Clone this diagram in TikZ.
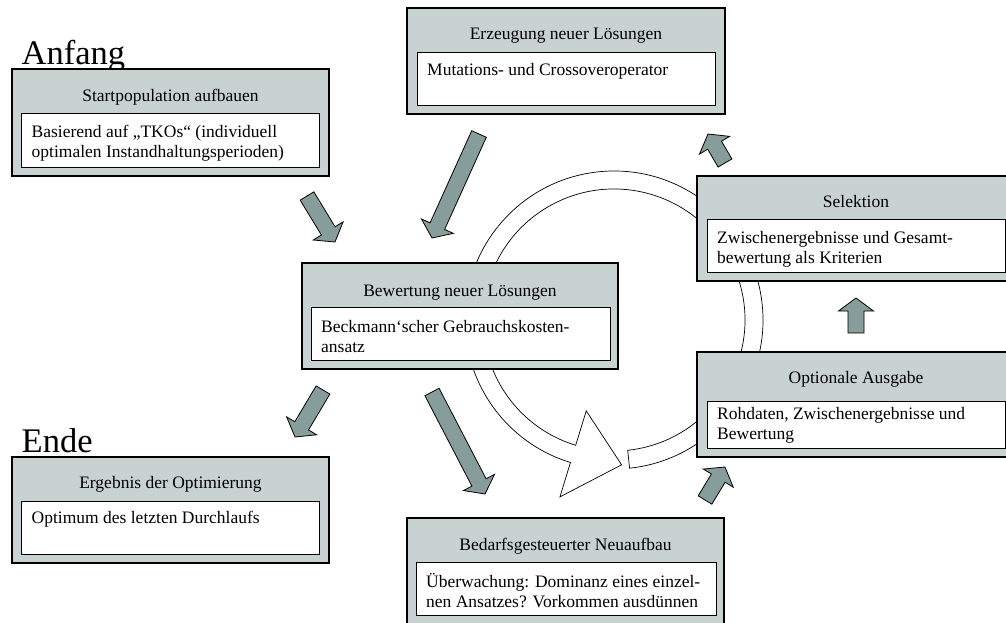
\documentclass[tikz,border=0pt]{standalone}
\usepackage{fontspec}
\setmainfont{Liberation Serif}
\usetikzlibrary{calc}
\definecolor{boxfill}{HTML}{C8D2D1}
\definecolor{arrfill}{HTML}{869D9B}
\tikzset{
  outerbox/.style={draw=black, line width=1.1pt, fill=boxfill},
  innerbox/.style={draw=black, line width=0.9pt, fill=white},
  boxtitle/.style={anchor=base, inner sep=0pt, font=\fontsize{17.5}{20}\selectfont},
  boxbody/.style={anchor=north west, inner sep=0pt, align=left, font=\fontsize{17.5}{20}\selectfont},
  biglabel/.style={anchor=base west, inner sep=0pt, font=\fontsize{34.5}{40}\selectfont},
  barrow/.style={draw=black, line width=0.8pt, fill=arrfill, line join=miter},
  ringarrow/.style={draw=black, line width=0.7pt, fill=white},
}
\newcommand\blockarrow[2]{%
  \coordinate (ba) at ($(#2)!13pt!(#1)$);
  \draw[barrow] ($(#1)!8pt!90:(#2)$) -- ($(ba)!8pt!90:(#2)$) -- ($(ba)!17.5pt!90:(#2)$) -- (#2)
    -- ($(ba)!17.5pt!-90:(#2)$) -- ($(ba)!8pt!-90:(#2)$) -- ($(#1)!8pt!-90:(#2)$) -- cycle;}
\begin{document}
\begin{tikzpicture}[x=1pt, y=-1pt]
\clip (0,0) rectangle (1006,623);
\fill[white] (0,0) rectangle (1006,623);

% circular hollow arrow
\coordinate (rc) at (614,320);
\draw[ringarrow] ([shift={(rc)}]-84:149pt) arc[start angle=-84, end angle=253, radius=149pt]
  -- ([shift={(rc)}]253:185pt) -- ([shift={(rc)}]273:145pt) -- ([shift={(rc)}]253:95pt)
  -- ([shift={(rc)}]253:131pt) arc[start angle=253, end angle=-84, radius=131pt] -- cycle;

% block arrows
\coordinate (a1t) at (307,196);  \coordinate (a1h) at (335,242);
\coordinate (a2t) at (479,134);  \coordinate (a2h) at (432,238);
\coordinate (a3t) at (323,390);  \coordinate (a3h) at (295,437);
\coordinate (a4t) at (432,392);  \coordinate (a4h) at (485,494);
\coordinate (a5t) at (705,500);  \coordinate (a5h) at (725,467);
\coordinate (a6t) at (856,333);  \coordinate (a6h) at (856,298);
\coordinate (a7t) at (725,163);  \coordinate (a7h) at (708,134);
\blockarrow{a1t}{a1h}
\blockarrow{a2t}{a2h}
\blockarrow{a3t}{a3h}
\blockarrow{a4t}{a4h}
\blockarrow{a5t}{a5h}
\blockarrow{a6t}{a6h}
\blockarrow{a7t}{a7h}

% big labels
\node[biglabel] (anf) at (21.5,65) {Anfang};
\node[biglabel] (end) at (21.5,452) {Ende};

% Startpopulation
\draw[outerbox] (12,69) rectangle (329,176);
\draw[innerbox] (21,113) rectangle (319,167);
\node[boxtitle] (t1) at (170.5,102) {Startpopulation aufbauen};
\node[boxbody] (x1) at (31.5,123) {\strut Basierend auf „TKOs“ (individuell\\optimalen Instandhaltungsperioden)};

% Erzeugung
\draw[outerbox] (407,8) rectangle (725,114);
\draw[innerbox] (417,52) rectangle (715,105);
\node[boxtitle] (t2) at (566,39.5) {Erzeugung neuer Lösungen};
\node[boxbody] (x2) at (427,61) {\strut Mutations- und Crossoveroperator};

% Bewertung
\draw[outerbox] (302,263) rectangle (618,369);
\draw[innerbox] (311,307) rectangle (610,360);
\node[boxtitle] (t3) at (460,296) {Bewertung neuer Lösungen};
\node[boxbody] (x3) at (321,318) {\strut Beckmann‘scher Gebrauchskosten-\\ansatz};

% Ergebnis
\draw[outerbox] (12,457) rectangle (329,563);
\draw[innerbox] (21,501) rectangle (319,554);
\node[boxtitle] (t4) at (170.5,488.5) {Ergebnis der Optimierung};
\node[boxbody] (x4) at (31.5,509) {\strut Optimum des letzten Durchlaufs};

% Bedarfsgesteuerter Neuaufbau
\draw[outerbox] (407,518) rectangle (724,640);
\draw[innerbox] (416,562) rectangle (716,615);
\node[boxtitle] (t5) at (565.5,550) {Bedarfsgesteuerter Neuaufbau};
\node[boxbody] (x5) at (426,573) {\strut Überwachung: Dominanz eines einzel-\\nen Ansatzes? Vorkommen ausdünnen};

% Selektion
\draw[outerbox] (697,176) rectangle (1015,281);
\draw[innerbox] (707,219) rectangle (1005,272);
\node[boxtitle] (t6) at (856,207.5) {Selektion};
\node[boxbody] (x6) at (717,229) {\strut Zwischenergebnisse und Gesamt-\\bewertung als Kriterien};

% Optionale Ausgabe
\draw[outerbox] (697,352) rectangle (1015,457);
\draw[innerbox] (707,401) rectangle (1005,448);
\node[boxtitle] (t7) at (856,383.5) {Optionale Ausgabe};
\node[boxbody] (x7) at (717,405) {\strut Rohdaten, Zwischenergebnisse und\\Bewertung};
\end{tikzpicture}
\end{document}
